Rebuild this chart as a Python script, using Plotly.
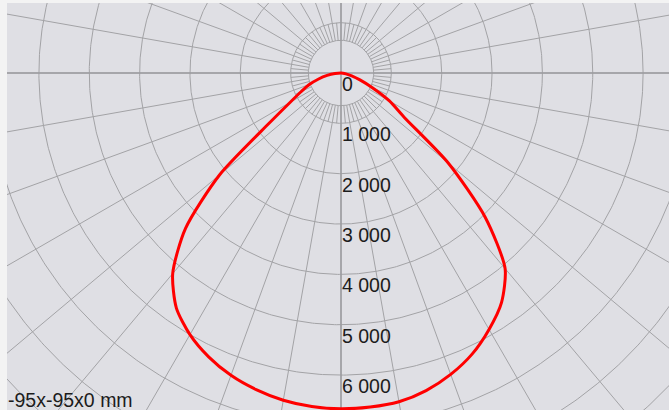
import numpy as np
import plotly.graph_objects as go

# Luminous intensity distribution (cd) in the C0 / C180 half-planes,
# tabulated every 5 degrees of gamma (0 = straight down).
GAMMA_DEG = [0, 5, 10, 15, 20, 25, 30, 35, 40, 45, 50, 55, 60, 65, 70, 75, 80, 85, 90]
I_C0 = [6670, 6660, 6630, 6530, 6370, 6160, 5880, 5560, 5070, 4050,
        2780, 1530, 1110, 680, 400, 220, 100, 40, 0]
I_C180 = [6670, 6650, 6600, 6510, 6390, 6220, 6000, 5700, 5200, 4370,
          3150, 1750, 1170, 870, 670, 460, 280, 120, 0]

# Radial scale: labelled rings and their texts
RING_VALUES = [0, 1000, 2000, 3000, 4000, 5000, 6000]
RING_LABELS = ["0", "1 000", "2 000", "3 000", "4 000", "5 000", "6 000"]
CAPTION = "-95x-95x0 mm"

# Grid geometry (cd)
GRID_STEP = 1000
GRID_MAX = 10000
HUB_R = 650

# Page layout (pixels)
W, H = 669, 410
ML, MT = 7, 3
CX, CY = 341, 73          # pole position on the page
PX_PER_CD = 50.35 / 1000  # radial scale

GRID_COLOR = "#a3a3a6"
FONT = "Liberation Sans, Arial, sans-serif"

x_range = [-(CX - ML) / PX_PER_CD, (W - CX) / PX_PER_CD]
y_range = [-(H - CY) / PX_PER_CD, (CY - MT) / PX_PER_CD]

fig = go.Figure()

# concentric rings
ring_x, ring_y = [], []
t = np.linspace(0, 2 * np.pi, 721)
for r in [HUB_R] + list(range(GRID_STEP, GRID_MAX + 1, GRID_STEP)):
    ring_x += list(r * np.cos(t)) + [None]
    ring_y += list(r * np.sin(t)) + [None]
fig.add_trace(go.Scatter(x=ring_x, y=ring_y, mode="lines",
                         line=dict(color=GRID_COLOR, width=1),
                         hoverinfo="skip", showlegend=False))

# spokes: every 10 deg out to the edge, intermediate 5 deg ones inside the first ring
sp_x, sp_y = [], []
for a in range(0, 360, 5):
    rad = np.radians(a)
    r_end = GRID_MAX * 1.5 if a % 10 == 0 else GRID_STEP
    sp_x += [HUB_R * np.cos(rad), r_end * np.cos(rad), None]
    sp_y += [HUB_R * np.sin(rad), r_end * np.sin(rad), None]
fig.add_trace(go.Scatter(x=sp_x, y=sp_y, mode="lines",
                         line=dict(color=GRID_COLOR, width=1),
                         hoverinfo="skip", showlegend=False))

# main axes through the pole
big = GRID_MAX * 1.5
fig.add_trace(go.Scatter(x=[-big, big, None, 0, 0], y=[0, 0, None, -big, big],
                         mode="lines", line=dict(color="#9c9ca0", width=1.5),
                         hoverinfo="skip", showlegend=False))

# intensity curve: C180 on the left, C0 on the right
g = np.radians(np.array(GAMMA_DEG, dtype=float))
i0 = np.array(I_C0, dtype=float)
i180 = np.array(I_C180, dtype=float)
cx = list((-i180 * np.sin(g))[::-1]) + list((i0 * np.sin(g))[1:])
cy = list((-i180 * np.cos(g))[::-1]) + list((-i0 * np.cos(g))[1:])
fig.add_trace(go.Scatter(x=cx, y=cy, mode="lines",
                         line=dict(color="#ff0000", width=3, shape="spline", smoothing=0.7),
                         hoverinfo="skip", showlegend=False))

annotations = []
for v, lab in zip(RING_VALUES, RING_LABELS):
    annotations.append(dict(x=0, y=-v, xref="x", yref="y", text=lab, showarrow=False,
                            xanchor="left", yanchor="middle", xshift=-1, yshift=-11,
                            font=dict(family=FONT, size=19.5, color="#1c1c1c")))

# caption in the lower left corner
cap_y = (CY - 400) / PX_PER_CD
annotations.append(dict(x=x_range[0], y=cap_y, xref="x", yref="y", text=CAPTION,
                        showarrow=False, xanchor="left", yanchor="middle", xshift=-1,
                        font=dict(family=FONT, size=19.5, color="#1c1c1c")))

fig.update_layout(
    width=W, height=H,
    margin=dict(l=ML, r=0, t=MT, b=0, pad=0),
    paper_bgcolor="#f3f3f3",
    plot_bgcolor="#dfdfe4",
    xaxis=dict(range=x_range, visible=False, fixedrange=True),
    yaxis=dict(range=y_range, visible=False, fixedrange=True),
    annotations=annotations,
    showlegend=False,
)

fig.write_html("out.html", config={"displayModeBar": False})
